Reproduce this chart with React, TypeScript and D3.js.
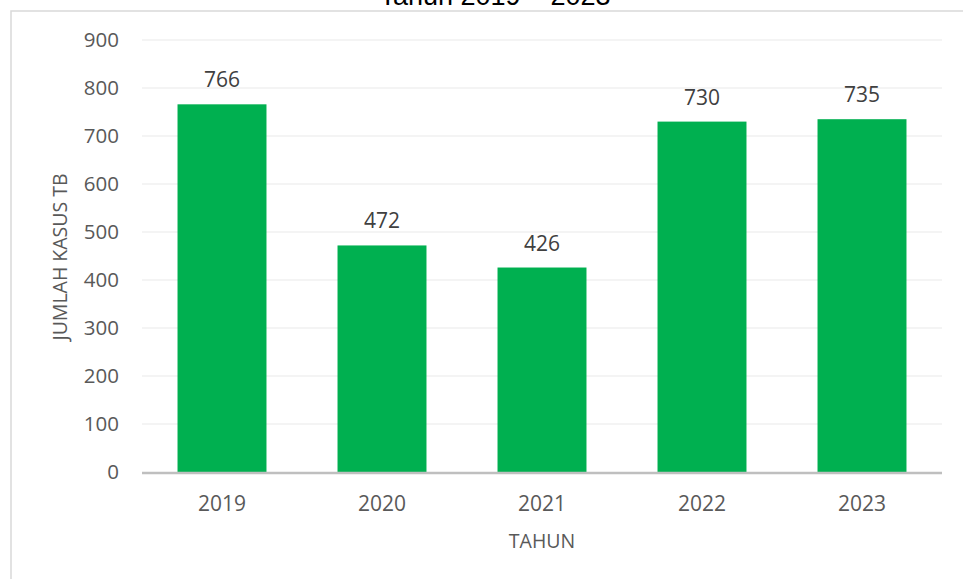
import * as d3 from "d3";

const years = ["2019", "2020", "2021", "2022", "2023"];
const kasus = [766, 472, 426, 730, 735];
const yTicks = [0, 100, 200, 300, 400, 500, 600, 700, 800, 900];

const W = 963;
const H = 579;
const font = "'Open Sans', sans-serif";

export default function App() {
  const x = d3.scaleBand().domain(years).range([142, 942]).paddingInner(0.444).paddingOuter(0.222);
  const y = d3.scaleLinear().domain([0, 900]).range([472, 40]);

  return (
    <svg width={W} height={H} style={{ position: "absolute", left: 0, top: 0 }}>
      <rect x={0} y={0} width={W} height={H} fill="#fff" />
      {/* chart frame, runs off the right and bottom edges */}
      <rect x={11} y={11} width={W + 20} height={H + 20} fill="none" stroke="#d9d9d9" strokeWidth={1.5} />
      <text x={495} y={5} textAnchor="middle" fontFamily="'Liberation Sans', Arial, sans-serif" fontSize={27} fill="#000">
        Tahun 2019 – 2023
      </text>

      {yTicks.map((t) => (
        <g key={t}>
          {t > 0 && <line x1={142} x2={942} y1={y(t)} y2={y(t)} stroke="#e9e9e9" strokeWidth={1.2} />}
          <text x={119} y={y(t)} dy="0.36em" textAnchor="end" fontFamily={font} fontSize={20.5} fill="#595959">
            {t}
          </text>
        </g>
      ))}

      {years.map((yr, i) => (
        <g key={yr}>
          <rect x={x(yr)} y={y(kasus[i])} width={x.bandwidth()} height={y(0) - y(kasus[i])} fill="#00b050" />
          <text x={x(yr)! + x.bandwidth() / 2} y={y(kasus[i]) - 17} textAnchor="middle" fontFamily={font} fontSize={21} fill="#404040">
            {kasus[i]}
          </text>
          <text x={x(yr)! + x.bandwidth() / 2} y={511} textAnchor="middle" fontFamily={font} fontSize={21} fill="#595959">
            {yr}
          </text>
        </g>
      ))}

      <line x1={142} x2={942} y1={y(0) + 1} y2={y(0) + 1} stroke="#bfbfbf" strokeWidth={2.5} />

      <text transform={`translate(67,257) rotate(-90)`} textAnchor="middle" fontFamily={font} fontSize={19.5} fill="#595959">
        JUMLAH KASUS TB
      </text>
      <text x={542} y={548} textAnchor="middle" fontFamily={font} fontSize={19.5} fill="#595959">
        TAHUN
      </text>
    </svg>
  );
}
